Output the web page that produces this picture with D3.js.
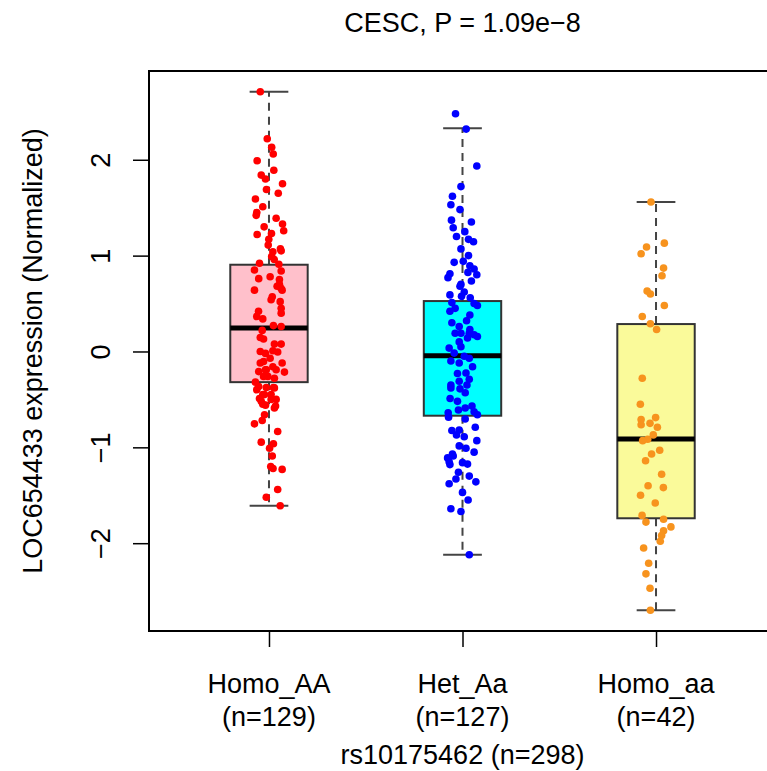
<!DOCTYPE html>
<html>
<head>
<meta charset="utf-8">
<script src="https://cdn.jsdelivr.net/npm/d3@7"></script>
<style>
  body { margin: 0; background: #fff; }
  text { font-family: "Liberation Sans", Arial, Helvetica, sans-serif; fill: #000; }
</style>
</head>
<body>
<div id="chart"></div>
<script>
// groups and labels
const groups = ["Homo_AA", "Het_Aa", "Homo_aa"];
const counts = [129, 127, 42];
const yTicks = [-2, -1, 0, 1, 2];

// box statistics (lower whisker, q1, median, q3, upper whisker)
const lows    = [-1.61, -2.12, -2.70];
const q1s     = [-0.32, -0.67, -1.74];
const medians = [0.244, -0.045, -0.914];
const q3s     = [0.905, 0.526, 0.286];
const highs   = [2.71, 2.33, 1.56];

// jittered points: expression value + horizontal jitter (in group units)
const valuesAA = [2.71,2.22,2.13,2.06,1.99,1.89,1.84,1.80,1.75,1.69,1.65,1.59,1.51,1.45,1.42,1.39,1.30,1.33,1.26,1.23,1.22,1.17,1.11,1.07,
  1.04,1.05,0.99,0.96,0.92,0.91,0.85,0.84,0.76,0.78,0.75,0.68,0.64,0.64,0.57,0.54,0.52,0.45,0.40,0.42,0.365,0.34,0.27,0.26,0.22,0.146,0.13,0.077,0.077,
  0.0,0.007,-0.006,-0.07,-0.12,-0.12,-0.16,-0.19,-0.21,-0.215,-0.26,-0.28,-0.32,-0.365,-0.376,-0.376,-0.40,
  -0.45,-0.45,-0.52,-0.57,-0.56,-0.66,-0.72,-0.755,-0.835,-0.946,-0.963,-1.01,-1.09,-1.20,-1.22,-1.23,-1.44,-1.52,-1.61,
  -0.02,-0.104,-0.19,-0.19,-0.26,-0.38,-0.45,-0.49,-0.50,-0.50,-0.55,-0.59,0.70,0.66];
const jitterAA = [-0.045,-0.009,0.014,0.022,-0.061,0.025,-0.040,-0.018,0.070,-0.013,0.048,-0.070,-0.032,-0.063,-0.066,0.037,-0.025,0.070,0.076,0.013,-0.061,-0.001,-0.004,0.059,
  0.020,0.063,0.014,0.027,-0.049,0.051,-0.075,0.063,-0.053,0.006,0.054,0.042,-0.075,0.068,0.017,0.011,0.058,0.063,0.063,-0.054,-0.063,-0.032,0.023,0.063,-0.035,-0.045,-0.028,0.028,0.063,
  -0.045,0.020,0.045,0.006,-0.045,0.068,0.020,-0.018,-0.053,0.080,-0.028,0.028,-0.070,-0.053,-0.014,0.023,-0.063,
  -0.032,0.011,-0.040,0.034,-0.018,-0.023,-0.035,-0.075,0.045,-0.040,0.023,0.003,0.017,0.009,0.021,0.068,0.045,-0.014,0.058,
  -0.018,-0.028,-0.014,0.037,-0.006,0.028,-0.023,-0.049,0.011,0.037,-0.032,0.028,0.054,0.062];

const valuesAa = [2.48,2.32,1.935,1.72,1.62,1.53,1.48,1.37,1.35,1.29,1.25,1.20,1.17,1.145,1.07,1.00,0.93,0.94,0.895,0.86,0.81,0.825,0.80,0.77,0.735,0.70,0.68,0.62,0.59,0.575,0.56,0.51,0.50,0.48,0.45,0.42,0.38,0.32,0.30,0.26,0.23,0.19,0.175,0.157,0.19,
  0.10,0.14,0.05,0.035,-0.017,-0.05,-0.07,-0.10,-0.12,-0.16,-0.23,-0.225,-0.29,-0.31,-0.35,-0.35,-0.38,-0.39,-0.43,-0.49,-0.52,-0.57,-0.61,-0.59,-0.64,-0.63,-0.66,-0.685,-0.705,-0.79,-0.825,-0.82,-0.87,-0.89,-0.93,-0.985,-1.01,-1.05,-1.07,-1.11,-1.18,-1.16,-1.175,-1.26,-1.30,-1.33,-1.36,-1.38,-1.47,-1.55,-1.64,-1.67,-2.12,
  -1.09,-1.15,0.19];
const jitterAa = [-0.036,0.019,0.074,-0.008,-0.052,-0.060,-0.013,-0.057,0.046,-0.048,0.012,-0.031,0.031,0.057,-0.008,0.031,-0.043,0.004,0.038,0.060,-0.065,0.028,0.074,-0.075,0.046,-0.008,-0.013,0.009,-0.065,-0.005,0.040,-0.055,0.060,0.077,-0.038,-0.065,0.038,0.021,-0.055,-0.017,0.038,-0.008,0.060,0.077,-0.038,
  -0.017,0.026,-0.008,-0.069,-0.043,0.009,0.035,-0.060,-0.017,0.052,-0.026,0.018,0.035,-0.017,-0.060,0.023,-0.060,-0.013,0.014,-0.064,-0.026,0.049,-0.021,0.014,-0.074,0.060,0.077,-0.072,0.014,0.066,-0.055,-0.017,-0.031,0.009,0.074,-0.017,0.018,0.060,-0.052,-0.077,-0.065,0.000,0.026,-0.021,0.035,-0.034,0.069,-0.069,0.000,0.029,-0.060,-0.008,0.035,
  -0.048,-0.069,0.035];

const valuesaa = [1.56,1.13,1.09,1.02,0.87,0.79,0.63,0.60,0.48,0.365,0.29,0.23,-0.28,-0.55,-0.71,-0.69,-0.765,-0.75,-0.79,-0.87,-0.915,-0.93,-1.03,-1.07,-1.14,-1.28,-1.40,-1.42,-1.50,-1.58,-1.71,-1.78,-1.75,-1.83,-1.87,-1.92,-1.98,-2.05,-2.21,-2.32,-2.47,-2.70];
const jitteraa = [-0.026,0.043,-0.049,-0.077,0.039,0.031,-0.046,-0.029,0.043,-0.071,-0.029,0.003,-0.071,-0.081,-0.077,-0.002,-0.077,-0.031,0.007,-0.014,-0.043,-0.069,0.019,-0.023,-0.054,0.029,-0.041,0.038,-0.080,-0.004,-0.072,-0.052,0.039,0.077,0.039,0.029,0.022,-0.064,-0.038,-0.052,-0.031,-0.029];

const pointColors = ["#ff0000", "#0000ff", "#f7931e"];
const boxColors = ["#ffc0cb", "#00ffff", "#fafa9a"];

const width = 767, height = 771;
const margin = {top: 71, right: -9, bottom: 140, left: 149};
const plotW = width - margin.left - margin.right;
const plotH = height - margin.top - margin.bottom;

const svg = d3.select("#chart").append("svg")
  .attr("width", width)
  .attr("height", height);

const chart = svg.append("g")
  .attr("transform", "translate(" + margin.left + "," + margin.top + ")");

const x = d3.scaleLinear().domain([0.38, 3.62]).range([0, plotW]);
const y = d3.scaleLinear().domain([-2.916, 2.926]).range([plotH, 0]);

const boxHalf = 0.2;

const boxes = groups.map(function(g, i) {
  return {i: i + 1, low: lows[i], q1: q1s[i], med: medians[i], q3: q3s[i], high: highs[i]};
});

// whiskers
chart.selectAll(".whisker-hi").data(boxes).enter().append("line")
  .attr("x1", d => x(d.i)).attr("x2", d => x(d.i))
  .attr("y1", d => y(d.q3)).attr("y2", d => y(d.high))
  .attr("stroke", "#444").attr("stroke-width", 2).attr("stroke-dasharray", "8,6");
chart.selectAll(".whisker-lo").data(boxes).enter().append("line")
  .attr("x1", d => x(d.i)).attr("x2", d => x(d.i))
  .attr("y1", d => y(d.q1)).attr("y2", d => y(d.low))
  .attr("stroke", "#444").attr("stroke-width", 2).attr("stroke-dasharray", "8,6");

// caps
["high", "low"].forEach(function(k) {
  chart.selectAll(".cap-" + k).data(boxes).enter().append("line")
    .attr("x1", d => x(d.i - boxHalf / 2)).attr("x2", d => x(d.i + boxHalf / 2))
    .attr("y1", d => y(d[k])).attr("y2", d => y(d[k]))
    .attr("stroke", "#444").attr("stroke-width", 2);
});

// boxes
chart.selectAll(".box").data(boxes).enter().append("rect")
  .attr("x", d => x(d.i - boxHalf))
  .attr("width", d => x(d.i + boxHalf) - x(d.i - boxHalf))
  .attr("y", d => y(d.q3))
  .attr("height", d => y(d.q1) - y(d.q3))
  .attr("fill", (d, i) => boxColors[i])
  .attr("stroke", "#333").attr("stroke-width", 2);

// medians
chart.selectAll(".median").data(boxes).enter().append("line")
  .attr("x1", d => x(d.i - boxHalf)).attr("x2", d => x(d.i + boxHalf))
  .attr("y1", d => y(d.med)).attr("y2", d => y(d.med))
  .attr("stroke", "#000").attr("stroke-width", 5);

// points
const pointSets = [[valuesAA, jitterAA], [valuesAa, jitterAa], [valuesaa, jitteraa]];
pointSets.forEach(function(set, gi) {
  const pts = set[0].map((v, j) => ({v: v, jit: set[1][j]}));
  chart.append("g").selectAll("circle").data(pts).enter().append("circle")
    .attr("cx", d => x(gi + 1 + d.jit))
    .attr("cy", d => y(d.v))
    .attr("r", 3.8)
    .attr("fill", pointColors[gi]);
});

// frame
chart.append("rect")
  .attr("x", 0).attr("y", 0)
  .attr("width", plotW).attr("height", plotH)
  .attr("fill", "none").attr("stroke", "#000").attr("stroke-width", 2);

// y axis
const yAxis = chart.append("g")
  .call(d3.axisLeft(y).tickValues(yTicks).tickSize(16).tickFormat(d3.format("d")));
yAxis.select(".domain").remove();
yAxis.selectAll(".tick line").attr("stroke", "#000").attr("stroke-width", 1.5);
yAxis.selectAll(".tick text")
  .attr("x", null).attr("dy", null)
  .attr("text-anchor", "middle")
  .attr("font-size", 27)
  .attr("transform", "translate(-39,0) rotate(-90)");

// x axis
const xAxis = chart.append("g")
  .attr("transform", "translate(0," + plotH + ")")
  .call(d3.axisBottom(x).tickValues([1, 2, 3]).tickSize(16).tickFormat(""));
xAxis.select(".domain").remove();
xAxis.selectAll(".tick line").attr("stroke", "#000").attr("stroke-width", 1.5);

const xLab = chart.append("g").selectAll("text").data(groups).enter().append("text")
  .attr("text-anchor", "middle")
  .attr("font-size", 27);
xLab.append("tspan")
  .attr("x", (d, i) => x(i + 1)).attr("y", plotH + 62)
  .text(d => d);
xLab.append("tspan")
  .attr("x", (d, i) => x(i + 1)).attr("y", plotH + 95)
  .text((d, i) => "(n=" + counts[i] + ")");

chart.append("text")
  .attr("x", plotW / 2).attr("y", plotH + 133)
  .attr("text-anchor", "middle").attr("font-size", 27)
  .text("rs10175462 (n=" + d3.sum(counts) + ")");

chart.append("text")
  .attr("transform", "translate(" + (-107) + "," + (plotH / 2) + ") rotate(-90)")
  .attr("text-anchor", "middle").attr("font-size", 27)
  .text("LOC654433 expression (Normalized)");

// title
svg.append("text")
  .attr("x", margin.left + plotW / 2).attr("y", 32)
  .attr("text-anchor", "middle").attr("font-size", 27)
  .text("CESC, P = 1.09e\u22128");
</script>
</body>
</html>
